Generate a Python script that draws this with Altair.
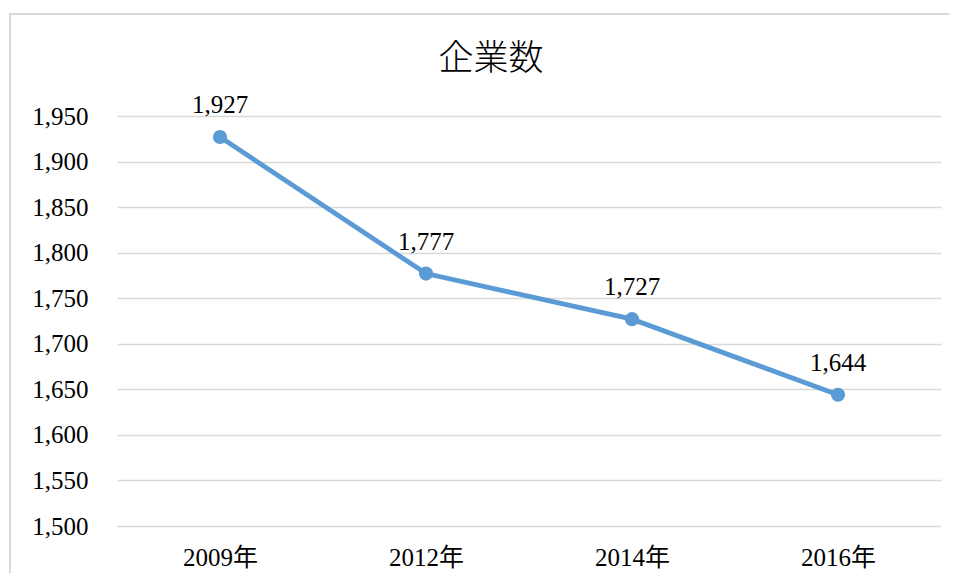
import altair as alt
import pandas as pd

years = ["2009年", "2012年", "2014年", "2016年"]
counts = [1927, 1777, 1727, 1644]
label_texts = ["1,927", "1,777", "1,727", "1,644"]

df = pd.DataFrame({"year": years, "count": counts, "label": label_texts})

FONT = "Liberation Serif, Noto Sans CJK JP"
BLUE = "#5B9BD5"

x = alt.X("year:N", sort=years, title=None,
          scale=alt.Scale(paddingInner=0, paddingOuter=0.5),
          axis=alt.Axis(labelAngle=0, domain=False, ticks=False, labelPadding=19,
                        labelFont=FONT, labelFontSize=25, labelColor="#000000", grid=False))
y = alt.Y("count:Q", title=None,
          scale=alt.Scale(domain=[1500, 1950], nice=False, zero=False),
          axis=alt.Axis(values=list(range(1500, 1951, 50)), format=",d", domain=False, ticks=False,
                        labelPadding=29, labelFont=FONT, labelFontSize=25, labelColor="#000000",
                        grid=True, gridColor="#d9d9d9", gridWidth=1.3))

border = alt.Chart(df).mark_rect(fill=None, stroke="#d9d9d9", strokeWidth=1.5).encode(
    x=alt.value(-107), x2=alt.value(870), y=alt.value(-102), y2=alt.value(490)
)

base = alt.Chart(df).encode(x=x, y=y)
line = base.mark_line(color=BLUE, strokeWidth=4.8)
pts = base.mark_point(filled=True, color=BLUE, size=200, opacity=1)
txt = base.mark_text(dy=-24, baseline="alphabetic", font=FONT, fontSize=25, color="#000000").encode(
    text="label:N")

chart = alt.layer(border, line, pts, txt).properties(
    width=824, height=410,
    title=alt.TitleParams("企業数", font="Noto Sans CJK JP", fontSize=35, fontWeight=300,
                          color="#000000", anchor="middle", dx=-38, offset=-64),
    autosize=alt.AutoSizeParams(type="none"),
    padding={"left": 109, "top": 108, "right": 8, "bottom": 47},
).configure(background="#ffffff").configure_view(stroke=None)

chart.save("out.html", embed_options={"renderer": "svg", "actions": False})
